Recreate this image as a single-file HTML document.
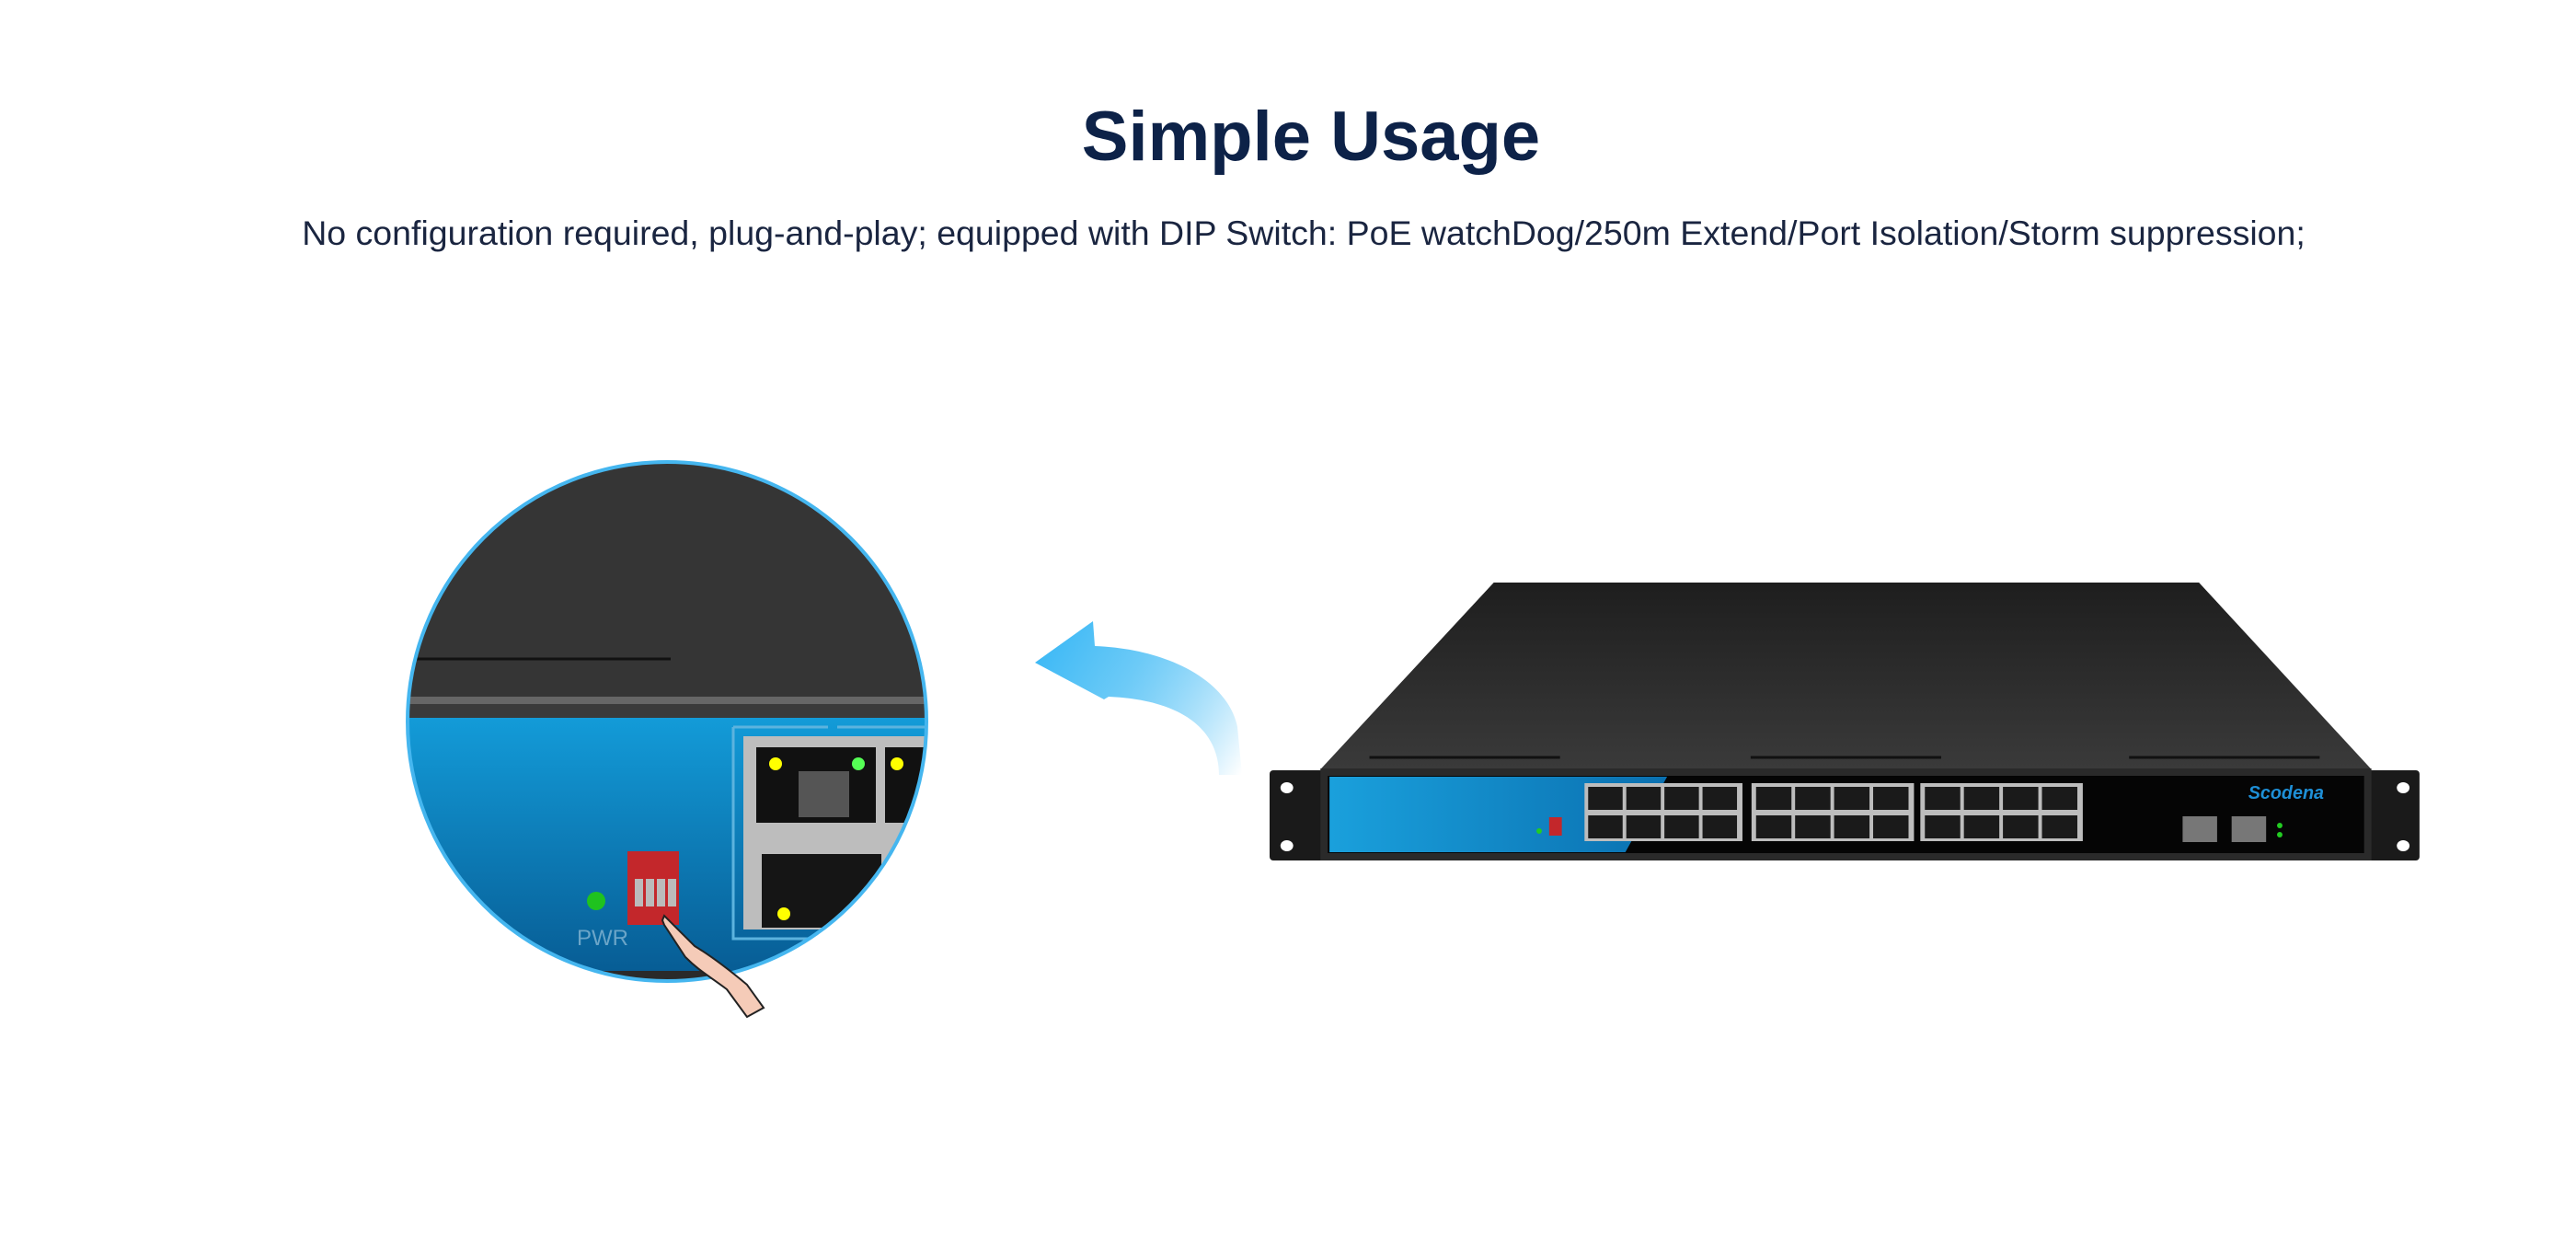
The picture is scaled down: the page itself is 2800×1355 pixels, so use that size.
<!DOCTYPE html>
<html><head><meta charset="utf-8"><style>
html,body{margin:0;padding:0;background:#fff;}
body{width:2800px;height:1355px;position:relative;overflow:hidden;font-family:"Liberation Sans",sans-serif;}
#t{position:absolute;left:0;width:2850px;top:105px;text-align:center;font-weight:bold;font-size:76px;color:#0d2248;}
#s{position:absolute;left:316px;width:2202px;top:232px;text-align:center;font-size:37.5px;color:#1a2540;white-space:nowrap;}
svg{position:absolute;left:0;top:0;}
</style></head><body>
<div id="t">Simple Usage</div>
<div id="s">No configuration required, plug-and-play; equipped with DIP Switch: PoE watchDog/250m Extend/Port Isolation/Storm suppression;</div>
<svg width="2800" height="1355" viewBox="0 0 2800 1355">
<defs>
<clipPath id="cc"><circle cx="725" cy="784" r="282"/></clipPath>
<linearGradient id="bl" x1="0" y1="0" x2="0" y2="1"><stop offset="0" stop-color="#139bd8"/><stop offset="1" stop-color="#075d95"/></linearGradient>
<linearGradient id="lid" x1="0" y1="0" x2="0" y2="1"><stop offset="0" stop-color="#1e1e1e"/><stop offset="1" stop-color="#3a3a3a"/></linearGradient>
<linearGradient id="ar" x1="1125" y1="700" x2="1350" y2="840" gradientUnits="userSpaceOnUse"><stop offset="0" stop-color="#3ab8f5"/><stop offset="0.4" stop-color="#6ccaf7"/><stop offset="1" stop-color="#3ab8f5" stop-opacity="0"/></linearGradient>
<linearGradient id="fb" x1="0" y1="0" x2="1" y2="0"><stop offset="0" stop-color="#1aa0dc"/><stop offset="1" stop-color="#0a70b0"/></linearGradient>
</defs>
<g clip-path="url(#cc)">
<rect x="430" y="490" width="600" height="600" fill="#353535"/>
<line x1="440" y1="716" x2="729" y2="716" stroke="#111" stroke-width="3"/>
<rect x="440" y="757" width="600" height="8" fill="#666"/>
<rect x="440" y="765" width="600" height="15" fill="#3a3a3a"/>
<rect x="440" y="780" width="600" height="275" fill="url(#bl)"/>
<rect x="440" y="1055" width="600" height="40" fill="#2a2a2a"/>
<path d="M797 790 H900 M910 790 H1020 M797 790 V1020 H950" stroke="#5cb3de" stroke-width="3" fill="none"/>
<rect x="808" y="800" width="240" height="210" fill="#bdbdbd"/>
<rect x="822" y="812" width="130" height="82" fill="#111"/>
<rect x="962" y="812" width="80" height="82" fill="#111"/>
<rect x="828" y="928" width="130" height="80" fill="#151515"/>
<circle cx="843" cy="830" r="7" fill="#ff0"/><circle cx="933" cy="830" r="7" fill="#5f5"/><circle cx="975" cy="830" r="7" fill="#ff0"/><circle cx="852" cy="993" r="7" fill="#ff0"/>
<rect x="868" y="838" width="55" height="50" fill="#555"/>
<rect x="682" y="925" width="56" height="80" fill="#c3272b"/>
<rect x="690" y="955" width="9" height="30" fill="#bbb"/><rect x="702" y="955" width="9" height="30" fill="#bbb"/><rect x="714" y="955" width="9" height="30" fill="#bbb"/><rect x="726" y="955" width="9" height="30" fill="#bbb"/>
<circle cx="648" cy="979" r="10" fill="#1fc21f"/>
<text x="655" y="1027" font-size="24" fill="#6ba5c8" text-anchor="middle">PWR</text>
</g>
<circle cx="725" cy="784" r="282" fill="none" stroke="#45b6ef" stroke-width="4"/>
<path d="M720 1000 L722 995 L755 1028 C775 1040 800 1060 812 1070 L830 1095 L812 1105 L790 1075 C770 1060 760 1055 745 1040 L722 1005 Z" fill="#f5cbb8" stroke="#222" stroke-width="2"/>
<path d="M1125 720 L1188 675 L1190 702 C1270 705 1335 740 1345 790 L1350 842 L1325 842 C1325 790 1280 760 1205 757 L1200 760 Z" fill="url(#ar)"/>
<g transform="translate(1380,0) scale(0.9865,1) translate(-1380,0)">
<polygon points="1627,633 2404,633 2594,836 1436,836" fill="url(#lid)"/>
<line x1="1490" y1="823" x2="1700" y2="823" stroke="#111" stroke-width="3"/>
<line x1="1910" y1="823" x2="2120" y2="823" stroke="#111" stroke-width="3"/>
<line x1="2327" y1="823" x2="2537" y2="823" stroke="#111" stroke-width="3"/>
<rect x="1380" y="837" width="73" height="98" rx="4" fill="#1a1a1a"/>
<rect x="2577" y="837" width="70" height="98" rx="4" fill="#1a1a1a"/>
<ellipse cx="1399" cy="856" rx="7" ry="6" fill="#fff"/><ellipse cx="1399" cy="919" rx="7" ry="6" fill="#fff"/>
<ellipse cx="2629" cy="856" rx="7" ry="6" fill="#fff"/><ellipse cx="2629" cy="919" rx="7" ry="6" fill="#fff"/>
<rect x="1436" y="835" width="1158" height="100" fill="#2a2a2a"/>
<rect x="1444" y="843" width="1142" height="84" fill="#050505"/>
<polygon points="1446,844 1818,844 1772,926 1446,926" fill="url(#fb)"/>
<g fill="#bdbdbd">
<rect x="1727" y="851" width="174" height="63"/><rect x="1911" y="851" width="179" height="63"/><rect x="2097" y="851" width="179" height="63"/>
</g>
<g fill="#1a1a1a">
<rect x="1731" y="855" width="38" height="25"/><rect x="1773" y="855" width="38" height="25"/><rect x="1815" y="855" width="38" height="25"/><rect x="1857" y="855" width="38" height="25"/>
<rect x="1731" y="886" width="38" height="25"/><rect x="1773" y="886" width="38" height="25"/><rect x="1815" y="886" width="38" height="25"/><rect x="1857" y="886" width="38" height="25"/>
<rect x="1916" y="855" width="39" height="25"/><rect x="1959" y="855" width="39" height="25"/><rect x="2002" y="855" width="39" height="25"/><rect x="2045" y="855" width="39" height="25"/>
<rect x="1916" y="886" width="39" height="25"/><rect x="1959" y="886" width="39" height="25"/><rect x="2002" y="886" width="39" height="25"/><rect x="2045" y="886" width="39" height="25"/>
<rect x="2102" y="855" width="39" height="25"/><rect x="2145" y="855" width="39" height="25"/><rect x="2188" y="855" width="39" height="25"/><rect x="2231" y="855" width="39" height="25"/>
<rect x="2102" y="886" width="39" height="25"/><rect x="2145" y="886" width="39" height="25"/><rect x="2188" y="886" width="39" height="25"/><rect x="2231" y="886" width="39" height="25"/>
</g>
<rect x="1688" y="888" width="14" height="20" fill="#c3272b"/>
<circle cx="1677" cy="903" r="3" fill="#2c2"/>
<rect x="2386" y="887" width="38" height="28" fill="#777"/><rect x="2440" y="887" width="38" height="28" fill="#777"/>
<circle cx="2493" cy="897" r="3" fill="#2c2"/><circle cx="2493" cy="907" r="3" fill="#2c2"/>
<text x="2500" y="868" font-size="20" font-style="italic" font-weight="bold" fill="#1e8fd6" text-anchor="middle">Scodena</text>
</g>
</svg>
</body></html>
